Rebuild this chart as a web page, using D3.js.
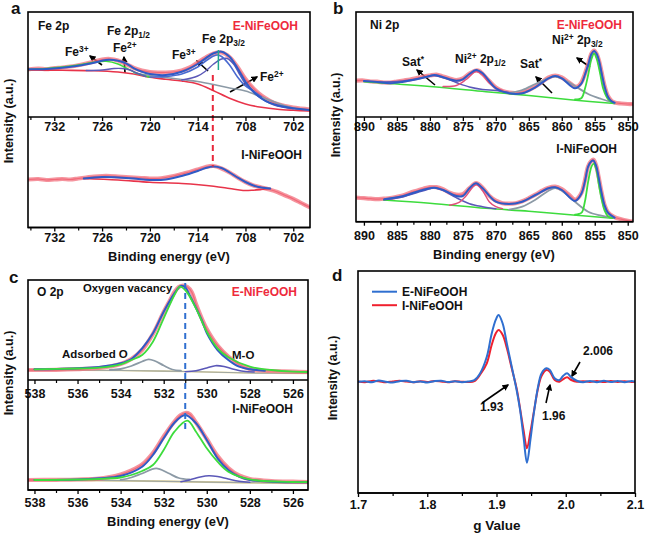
<!DOCTYPE html>
<html><head><meta charset="utf-8">
<script src="https://cdn.jsdelivr.net/npm/d3@7"></script>
<style>body{margin:0;background:#fff}svg{display:block}</style>
</head><body>
<svg id="c" width="645" height="539"></svg>
<script>
// ---------- Panel a : Fe 2p (binding energy eV, intensity a.u.) ----------
const aTicks = [732, 726, 720, 714, 708, 702];
const aMinor = [735, 729, 723, 717, 711, 705];
const aTopRaw = [[735.3,47.5],[734,48.5],[733,47.8],[732,48.8],[731,49.5],[730,50.5],[729,51.8],[728,53.5],[727,55.5],[726,57.5],[725,58],[724,56.5],[723,53],[722,49],[721,46.5],[720,45],[719,44.5],[718,44.5],[717,45],[716,46.5],[715,49.5],[714,54.5],[713,59.5],[712,63.5],[711,64.5],[710,60],[709,50],[708,38],[707,28.5],[706,21.5],[705,16.5],[704,13],[703,11],[702,9.5],[701,8.5],[699.9,7.5]];
const aTopFit = [[735.3,47.7],[733,48],[731,49.3],[729,51.3],[727,54.3],[725.5,57],[724,56.3],[723,53.7],[722,48.7],[721,45.3],[720,43],[718,42],[716,45.3],[714,53],[713,58.7],[712,63.7],[711,65.3],[710,60.3],[709,48.7],[708,35.3],[707,25.3],[706,18.7],[705,14.3],[704,11.7],[702,8.7],[700,7]];
const aTopBg = [[735.3,47],[731,46.7],[727,46.3],[724,45],[722,43],[720,39.7],[718,37.7],[716,36],[714,33],[712,26.3],[710,18.7],[708,13],[706,9.7],[704,7.7],[702,6.7],[700,6]];
const aTopFe3Half = [[735.3,47.5],[733,48.5],[731,50],[729,52],[727,54.7],[725.5,55.7],[724,53],[723,49],[722,45],[721,42],[720,39.7]];
const aTopFe2Half = [[728,46.5],[726,47],[724.5,48.5],[723.5,48.5],[722.5,47],[721.5,43.5],[720.5,40.5]];
const aTopFe3 = [[720,40],[718,40.5],[716,43],[714,50],[713,56],[712,61],[711.5,62],[711,60.5],[710,52],[709,40],[708,31],[707,26],[706,20]];
const aTopFe2 = [[716,37],[714,41],[713,46],[712,53],[711,58],[710.3,58.5],[709.5,53],[708.7,42],[708,33],[707,25],[706,18.5],[705,14],[704,11],[702,8.3]];
const aTopSat = [[722,44],[720,41.5],[718,39.5],[716,37.5],[714,35.5],[712,32.5],[710,29],[708,26],[706,20],[704,14],[702,9],[700,7]];
const aBotRaw = [[735.3,48],[734,48.5],[733,47.5],[732,48],[731,48.5],[730,48],[729,49],[728,50],[727,51],[726,51.5],[725,51.5],[724,51],[723,50.5],[722,50],[721,49.5],[720,49],[719,49],[718,50],[717,51.5],[716,53.5],[715,55.5],[714,58],[713,60.5],[712,61.5],[711,59],[710,55],[709,50],[708,45.5],[707,42],[706,40],[705,38],[704,35.5],[703,32],[702,28.5],[701,24.5],[699.9,20]];
const aBotFit = [[728.3,49],[726,50.5],[724,50],[722,49],[720,47.5],[718,48],[716,51.5],[714,56.5],[713,59.5],[712,61],[711,59.5],[710,55],[709,50],[708,45.5],[707,42],[706,40],[704.9,39]];
const aBotBg = [[728.3,49],[724,47.5],[720,45.3],[716,44],[712,41.3],[710,39],[708.3,37],[707,37.3],[706,38],[704.9,39]];

// ---------- Panel b : Ni 2p ----------
const bTicks = [890, 885, 880, 875, 870, 865, 860, 855, 850];
const bMinor = [887.5, 882.5, 877.5, 872.5, 867.5, 862.5, 857.5, 852.5];
const bTopRaw = [[891.2,36.3],[890,36.5],[889,35.5],[888,35.3],[887,34.5],[886,34.5],[885,35.5],[884,36.5],[883,37.5],[882,39],[881,40.5],[880,41.5],[879,42.3],[878,40.5],[877,38.5],[876,37],[875,38.5],[874,43.5],[873,46.5],[872.5,46],[872,43],[871,36],[870,29.5],[869,26],[868,24.5],[867,24],[866,25],[865,27],[864,30.5],[863,35],[862,39.5],[861,41.5],[860,39.5],[859,35],[858,30.5],[857.5,31],[857,35],[856.5,43],[856,53],[855.5,63.5],[855.1,66.5],[854.7,63],[854.3,55],[854,46],[853.5,31],[853,21],[852.5,16.5],[852,14.5],[851,13.5],[850,13],[849.2,13]];
const bTopFit = [[890,36],[888,35],[886,33.7],[884,35.3],[882,37.7],[880,41],[879.3,42],[878,39.7],[876,36.3],[875,37.7],[874,43],[873,47],[872,43.7],[870,28.7],[868,23.7],[866,23.7],[864,29.7],[862,38.7],[861,41],[860,38.7],[858,28.7],[857,33.7],[856.5,42],[856,52],[855.5,63],[855.1,66],[854.7,63],[854.3,55],[854,45.3],[853.5,30.3],[853,20.3],[852.5,16],[852,14.3]];
const bTopBg = [[890,35.3],[880,30.5],[871.5,25.3],[865,21.5],[858.3,17],[852,13.5]];
const bTopSat1 = [[888,35],[885,35.5],[883,37],[881,39.5],[879.5,41.5],[878,39.5],[876,34.5],[874,30],[872,27.5],[870,26.5],[868,24.5]];
const bTopNi1 = [[878,30.5],[876,31.5],[874.5,37.5],[873,45.5],[872,42],[871,34],[870,29],[869,26.5]];
const bTopSat2 = [[868,24],[866,27],[864,33],[862,39],[861,40.5],[860,38.5],[858,31],[856,23],[854,18],[852,14]];
const bTopNi3 = [[858,17.5],[857,19],[856.5,28],[856,42],[855.5,58],[855.1,63.5],[854.7,58],[854.2,44],[853.7,28],[853,18],[852.3,14]];
const bBotRaw = [[891.2,24],[890,23.5],[889,23],[888,22.5],[887,23],[886,23.5],[885,25],[884,26.5],[883,29],[882,31],[881,33],[880,34.5],[879,34.5],[878,32.5],[877,29],[876,27],[875,27.5],[874,33.5],[873,38.5],[872,34],[871,26],[870,21],[869,18.5],[868,18],[867,18.5],[866,20.5],[865,23.5],[864,27],[863,31],[862,34],[861,35],[860,32.5],[859,27.5],[858,22],[857.5,24],[857,29],[856.5,41],[856,55.5],[855.5,61],[855.2,62],[854.8,56.5],[854.4,44.5],[854,30.5],[853.5,16.5],[853,9.5],[852,4.5],[851,2.5],[850,1],[849.2,0]];
const bBotFit = [[886.9,22.4],[884,25.7],[882,30],[880,33.4],[879.3,34],[878,31.7],[876,25.7],[875,25.7],[874,33.4],[873,38.4],[872,33.4],[870,20],[868,17.7],[866,20],[864,26.7],[862,33.4],[861,34.4],[860,31.7],[858,20.7],[857,28.4],[856.5,40],[856,55],[855.5,60.5],[855.2,61],[854.8,56],[854.4,44],[854,30],[853.5,16],[853,9],[852,4]];
const bBotBg = [[887,21.7],[880,18.5],[871.5,13.4],[865,10.5],[858.3,6.7],[852.3,3.4]];
const bBotSat1 = [[887,22],[884,25],[882,29],[880,33],[879.3,34],[878,31.5],[876,24],[874,18],[872,15],[870,13]];
const bBotNi1 = [[877,16.5],[875.5,19.5],[874.5,26],[873,37],[872,31],[871,20],[870,15],[869,13]];
const bBotSat2 = [[868,12],[866,15],[864,22],[862,31],[861,33.5],[860,31],[858,20],[856,10],[854,6],[852,3.5]];
const bBotNi3 = [[858,7],[857,9],[856.5,20],[856,40],[855.5,55],[855.2,58],[854.8,53],[854.4,38],[854,24],[853.5,11],[853,5.5],[852.3,3.5]];

// ---------- Panel c : O 2p ----------
const cTicks = [538, 536, 534, 532, 530, 528, 526];
const cMinor = [537, 535, 533, 531, 529, 527];
const cTopRaw = [[538.3,10],[537,10.2],[536,10.8],[535,12],[534.5,13.5],[534,16],[533.5,21],[533,30],[532.5,46],[532,68],[531.7,80],[531.5,88],[531.3,93],[531.1,94.5],[530.9,93],[530.7,88],[530.5,76],[530.2,60],[530,51],[529.5,34.5],[529,23.5],[528.5,15.5],[528,11],[527.5,9.5],[527,9],[526,8.3],[525.3,8]];
const cTopFit = [[538,10.7],[537,11],[536,11.7],[535,13],[534,16.7],[533.5,21],[533,31.7],[532.5,46.7],[532,68.3],[531.5,86.7],[531.2,94],[531,92.7],[530.8,85],[530.5,72],[530.2,58],[530,47],[529.5,30],[529,20],[528.5,13.3],[528,10.7],[527.3,9.3]];
const cTopMain = [[538,10.7],[536,11.5],[535,12.3],[534,15.7],[533.5,20],[533,25],[532.5,38.3],[532,61.7],[531.5,85],[531.25,93.3],[531,90],[530.5,71.7],[530,48.3],[529.5,31.7],[529,22.7],[528,13.3],[527,10],[526,8.3],[525.3,8]];
const cTopAds = [[534.5,10],[534,11],[533.5,14],[533,18.5],[532.7,20.7],[532.4,19],[532,14.5],[531.6,10.5],[531.2,9.3]];
const cTopMO = [[531,8.3],[530.5,9.3],[530,12],[529.6,14.3],[529.2,13.5],[528.8,11],[528.3,8.7],[527.8,8]];
const cTopBg = [[538.3,10],[534,9.5],[531,8.5],[528,7],[525.3,6.5]];
const cBotRaw = [[538.3,10],[537,10.2],[536,10.5],[535,11.3],[534.5,13],[534,15.5],[533.5,19.5],[533,25.5],[532.5,37],[532,53.5],[531.5,68.5],[531.2,75],[531,77],[530.8,76],[530.5,67.5],[530,51],[529.5,34],[529,22],[528.5,14.5],[528,11],[527,9],[526,8.3],[525.3,8]];
const cBotFit = [[538,10],[536,10.5],[535,11.7],[534,14],[533,23.3],[532.5,35],[532,51.7],[531.5,67.3],[531,75],[530.5,66.7],[530,50],[529.5,31.7],[529,20],[528.5,13.3],[528,10],[527,8.3],[525.3,7.7]];
const cBotMain = [[538,10],[535,11],[534,12.5],[533.5,15],[533,19],[532.5,25],[532,40],[531.5,58.3],[530.9,69.3],[530.5,58.3],[530,41.7],[529.5,28.3],[529,18.3],[528,10.7],[526,8],[525.3,8]];
const cBotAds = [[534,10],[533.5,12.5],[533,16.5],[532.35,21.7],[531.8,17],[531.3,12],[530.8,10.5]];
const cBotMO = [[531.2,8.3],[530.8,10],[530.3,13],[529.9,14.3],[529.5,13.5],[529,11],[528.5,8.7],[528,7.7]];
const cBotBg = [[538.3,10],[534,9.3],[531,8.3],[528,7.3],[525.3,6.7]];

// ---------- Panel d : EPR ----------
const dTicks = [1.7, 1.8, 1.9, 2.0, 2.1];
const dMinor = [1.75, 1.85, 1.95, 2.05];
const dSeries = ["E-NiFeOOH", "I-NiFeOOH"];
const dG = [1.700,1.710,1.720,1.730,1.740,1.750,1.760,1.770,1.780,1.790,1.800,1.810,1.820,1.830,1.840,1.850,1.860,1.868,1.876,1.886,1.893,1.899,1.903,1.909,1.915,1.922,1.929,1.934,1.939,1.944,1.949,1.954,1.960,1.965,1.972,1.977,1.984,1.991,1.996,2.002,2.008,2.016,2.025,2.035,2.045,2.055,2.065,2.075,2.085,2.095,2.100];
const dE = [0,0.5,-0.5,1.2,0,-0.8,0.5,1,-0.5,0.3,-0.7,0.5,1,-0.3,0.4,-0.5,0.3,1.5,8,25,48,62,66.7,58,38,15,-8,-28,-55,-81,-58,-31,-5,8.3,13.4,11.7,3.3,1.7,5.7,8.4,4.3,1,-0.5,0.8,-0.5,1,-0.3,0.8,-0.5,0.8,0];
const dI = [0.3,-0.5,0.8,0.5,-0.5,0.3,1,0.2,-0.5,0.5,-0.3,0.8,0.3,-0.5,0.5,0,-0.3,0.5,6.7,18.4,36.7,48.4,51.7,46.7,33.4,13.4,-6.6,-26.6,-48.3,-66.6,-50,-29.9,-6.6,5.7,11.7,10,1.7,0,2.4,4.4,1.7,0,0.5,-0.3,0.6,-0.4,0.7,-0.2,0.5,-0.3,0];

// ---------- drawing ----------
const FONT = '"Liberation Sans", Arial, Helvetica, sans-serif';
const C = {raw:'#f2707e', fit:'#2f5bc6', bg:'#e8344a', green:'#3ddc3d', gray:'#8c9aa6', purple:'#5b58b8', slate:'#4a6ad0', red:'#ee2a3c', pink:'#e0507a', teal:'#1fa88f'};
const svg = d3.select('#c');
const defs = svg.append('defs');
defs.append('marker').attr('id','arr').attr('viewBox','0 0 10 10').attr('refX',8).attr('refY',5)
  .attr('markerWidth',4.2).attr('markerHeight',4.2).attr('orient','auto')
  .append('path').attr('d','M0,0L10,5L0,10z').attr('fill','#000');

let clipN = 0;
function clipGroup(x0,y0,x1,y1){
  const id = 'cl'+(clipN++);
  defs.append('clipPath').attr('id',id).append('rect').attr('x',x0).attr('y',y0).attr('width',x1-x0).attr('height',y1-y0);
  return svg.append('g').attr('clip-path',`url(#${id})`);
}
function curve(g, data, x, y, color, w, op){
  g.append('path').datum(data)
   .attr('d', d3.line().x(d=>x(d[0])).y(d=>y(d[1])).curve(d3.curveCatmullRom.alpha(0.5)))
   .attr('fill','none').attr('stroke',color).attr('stroke-width',w)
   .attr('stroke-opacity',op==null?1:op).attr('stroke-linejoin','round').attr('stroke-linecap','round');
}
function rawCurve(g, data, x, y){
  curve(g, data, x, y, C.raw, 4.2, 0.75);
  curve(g, data, x, y, '#f04a5e', 1.2, 0.6);
}
function txt(g, x, y, s, size, opts={}){
  return g.append('text').attr('x',x).attr('y',y).text(s)
    .attr('font-family',FONT).attr('font-weight','bold').attr('font-size',size)
    .attr('fill',opts.color||'#111').attr('text-anchor',opts.anchor||'start');
}
function rich(g, x, y, parts, size, opts={}){
  const t = g.append('text').attr('x',x).attr('y',y)
    .attr('font-family',FONT).attr('font-weight','bold').attr('font-size',size)
    .attr('fill',opts.color||'#111').attr('text-anchor',opts.anchor||'start');
  parts.forEach(p=>{
    const ts = t.append('tspan').text(p[0]);
    if(p[1]==='sub') ts.attr('font-size',size*0.7).attr('baseline-shift',-2.5);
    if(p[1]==='sup') ts.attr('font-size',size*0.7).attr('baseline-shift',4.5);
  });
}
function arrow(g, x1,y1,x2,y2){
  g.append('line').attr('x1',x1).attr('y1',y1).attr('x2',x2).attr('y2',y2)
   .attr('stroke','#000').attr('stroke-width',1.6).attr('marker-end','url(#arr)');
}
function xAxis(x, yPos, major, minor, fmt, base){
  const g = svg.append('g').attr('transform',`translate(0,${yPos})`);
  g.call(d3.axisBottom(x).tickValues(major).tickSize(4).tickPadding(0).tickFormat(fmt));
  g.select('.domain').remove();
  g.selectAll('.tick line').attr('stroke','#000').attr('stroke-width',1.3);
  g.selectAll('.tick text').attr('font-family',FONT).attr('font-weight','bold').attr('font-size',12.5)
    .attr('fill','#111').attr('y', base - yPos).attr('dy',0);
  const m = svg.append('g').attr('transform',`translate(0,${yPos})`);
  m.call(d3.axisBottom(x).tickValues(minor).tickSize(3).tickFormat(''));
  m.select('.domain').remove();
  m.selectAll('.tick line').attr('stroke','#000').attr('stroke-width',1.2);
  svg.append('line').attr('x1',x.range()[0]).attr('x2',x.range()[1]).attr('y1',yPos).attr('y2',yPos)
    .attr('stroke','#000').attr('stroke-width',1.6);
}
function frame(x0,y0,x1,y1){
  svg.append('rect').attr('x',x0).attr('y',y0).attr('width',x1-x0).attr('height',y1-y0)
    .attr('fill','none').attr('stroke','#000').attr('stroke-width',1.6);
}
function yTitle(x, y){
  svg.append('text').attr('transform',`translate(${x},${y}) rotate(-90)`).text('Intensity (a.u.)')
    .attr('font-family',FONT).attr('font-weight','bold').attr('font-size',12.5).attr('text-anchor','middle').attr('fill','#111');
}
const ann = svg.append('g');

// ===== Panel a =====
const xA = d3.scaleLinear().domain([735.3, 699.9]).range([28, 310]);
const yAt = d3.scaleLinear().domain([0, 105]).range([117, 12]);
const yAb = d3.scaleLinear().domain([0, 110.5]).range([227.5, 117]);
{
  const g1 = clipGroup(28,12,310,117);
  rawCurve(g1, aTopRaw, xA, yAt);
  curve(g1, aTopBg, xA, yAt, C.bg, 1.6);
  curve(g1, aTopSat, xA, yAt, C.gray, 1.6);
  curve(g1, aTopFe3Half, xA, yAt, C.green, 1.6);
  curve(g1, aTopFe2Half, xA, yAt, C.purple, 1.4);
  curve(g1, aTopFe2, xA, yAt, C.purple, 1.4);
  curve(g1, aTopFe3, xA, yAt, C.slate, 1.6);
  curve(g1, aTopFit, xA, yAt, C.fit, 2);
  const g2 = clipGroup(28,117,310,227.5);
  rawCurve(g2, aBotRaw, xA, yAb);
  curve(g2, aBotBg, xA, yAb, C.bg, 1.6);
  curve(g2, aBotFit, xA, yAb, C.fit, 2);
  svg.append('line').attr('x1',xA(712.1)).attr('x2',xA(712.1)).attr('y1',yAt(42)).attr('y2',yAb(61))
    .attr('stroke','#e8283c').attr('stroke-width',2).attr('stroke-dasharray','6,4');
  svg.append('line').attr('x1',xA(711.4)).attr('x2',xA(711.4)).attr('y1',yAt(67)).attr('y2',yAt(47))
    .attr('stroke',C.teal).attr('stroke-width',1.5);
  xAxis(xA, 117, aTicks, aMinor, d3.format('d'), 131);
  xAxis(xA, 227.5, aTicks, aMinor, d3.format('d'), 242);
  frame(28,12,310,227.5);
  txt(ann, 169, 261, 'Binding energy (eV)', 12.9, {anchor:'middle'});
  yTitle(13, 121);
  txt(ann, 11, 14, 'a', 17);
  txt(ann, 38, 30, 'Fe 2p', 12);
  txt(ann, 298, 30, 'E-NiFeOOH', 12, {anchor:'end', color:C.red});
  txt(ann, 302, 159, 'I-NiFeOOH', 12, {anchor:'end'});
  rich(ann, 107, 35, [['Fe 2p'],['1/2','sub']], 12);
  rich(ann, 113, 52, [['Fe'],['2+','sup']], 12);
  rich(ann, 65, 56, [['Fe'],['3+','sup']], 12);
  rich(ann, 202, 43, [['Fe 2p'],['3/2','sub']], 12);
  rich(ann, 172, 59, [['Fe'],['3+','sup']], 12);
  rich(ann, 260, 81, [['Fe'],['2+','sup']], 12);
  arrow(ann, 102, 65, 90, 56);
  arrow(ann, 125, 73, 124, 57);
  arrow(ann, 208, 71, 197, 61);
  arrow(ann, 230, 92, 257, 77);
}

// ===== Panel b =====
const xB = d3.scaleLinear().domain([891.2, 849.2]).range([356, 633]);
const yBt = d3.scaleLinear().domain([0, 105]).range([117, 12]);
const yBb = d3.scaleLinear().domain([0, 104.7]).range([221.7, 117]);
{
  const g1 = clipGroup(356,12,633,117);
  rawCurve(g1, bTopRaw, xB, yBt);
  curve(g1, bTopBg, xB, yBt, C.green, 1.6);
  curve(g1, bTopSat1, xB, yBt, C.purple, 1.5);
  curve(g1, bTopNi1, xB, yBt, C.pink, 1.5);
  curve(g1, bTopSat2, xB, yBt, C.gray, 1.8);
  curve(g1, bTopNi3, xB, yBt, C.green, 1.8);
  curve(g1, bTopFit, xB, yBt, C.fit, 2);
  const g2 = clipGroup(356,117,633,221.7);
  rawCurve(g2, bBotRaw, xB, yBb);
  curve(g2, bBotBg, xB, yBb, C.green, 1.6);
  curve(g2, bBotSat1, xB, yBb, C.purple, 1.5);
  curve(g2, bBotNi1, xB, yBb, C.pink, 1.5);
  curve(g2, bBotSat2, xB, yBb, C.gray, 1.8);
  curve(g2, bBotNi3, xB, yBb, C.green, 1.8);
  curve(g2, bBotFit, xB, yBb, C.fit, 2);
  xAxis(xB, 117, bTicks, bMinor, d3.format('d'), 131);
  xAxis(xB, 221.7, bTicks, bMinor, d3.format('d'), 240);
  frame(356,12,633,221.7);
  txt(ann, 494, 259, 'Binding energy (eV)', 12.9, {anchor:'middle'});
  yTitle(340, 115);
  txt(ann, 333, 14, 'b', 17);
  txt(ann, 370, 29, 'Ni 2p', 12);
  txt(ann, 622, 29, 'E-NiFeOOH', 12, {anchor:'end', color:C.red});
  txt(ann, 617, 153, 'I-NiFeOOH', 12, {anchor:'end'});
  rich(ann, 402, 66, [['Sat'],['*','sup']], 12);
  rich(ann, 455, 63, [['Ni'],['2+','sup'],[' 2p'],['1/2','sub']], 12);
  rich(ann, 520, 68, [['Sat'],['*','sup']], 12);
  rich(ann, 552, 44, [['Ni'],['2+','sup'],[' 2p'],['3/2','sub']], 12);
  arrow(ann, 435, 85, 417, 70);
  arrow(ann, 552, 93, 536, 77);
  arrow(ann, 590, 67, 577, 58);
}

// ===== Panel c =====
const xC = d3.scaleLinear().domain([538.3, 525.3]).range([28, 308]);
const yCt = d3.scaleLinear().domain([0, 100]).range([380, 280]);
const yCb = d3.scaleLinear().domain([0, 110]).range([490, 380]);
{
  const g1 = clipGroup(28,280,308,380);
  curve(g1, cTopBg, xC, yCt, '#e8d898', 1.6);
  curve(g1, cTopBg, xC, yCt, C.gray, 1.2, 0.8);
  rawCurve(g1, cTopRaw, xC, yCt);
  curve(g1, cTopAds, xC, yCt, C.gray, 1.8);
  curve(g1, cTopMO, xC, yCt, C.purple, 1.6);
  curve(g1, cTopFit, xC, yCt, C.fit, 2);
  curve(g1, cTopMain, xC, yCt, C.green, 1.8);
  const g2 = clipGroup(28,380,308,490);
  curve(g2, cBotBg, xC, yCb, '#e8d898', 2);
  curve(g2, cBotBg, xC, yCb, C.gray, 1.2, 0.8);
  rawCurve(g2, cBotRaw, xC, yCb);
  curve(g2, cBotAds, xC, yCb, C.gray, 1.8);
  curve(g2, cBotMO, xC, yCb, C.purple, 1.6);
  curve(g2, cBotFit, xC, yCb, C.fit, 2);
  curve(g2, cBotMain, xC, yCb, C.green, 1.8);
  svg.append('line').attr('x1',xC(531)).attr('x2',xC(531)).attr('y1',yCt(97)).attr('y2',yCb(57))
    .attr('stroke','#2f6fd0').attr('stroke-width',2).attr('stroke-dasharray','6,4');
  xAxis(xC, 380, cTicks, cMinor, d3.format('d'), 398);
  xAxis(xC, 490, cTicks, cMinor, d3.format('d'), 507);
  frame(28,280,308,490);
  txt(ann, 168, 526, 'Binding energy (eV)', 12.9, {anchor:'middle'});
  yTitle(13, 373);
  txt(ann, 9, 283, 'c', 17);
  txt(ann, 37, 296, 'O 2p', 12);
  txt(ann, 83, 292, 'Oxygen vacancy', 11.3);
  txt(ann, 297, 296, 'E-NiFeOOH', 12, {anchor:'end', color:C.red});
  txt(ann, 62, 358, 'Adsorbed O', 11.5);
  txt(ann, 232, 359, 'M-O', 11.5);
  txt(ann, 293, 413, 'I-NiFeOOH', 12, {anchor:'end'});
}

// ===== Panel d =====
const xD = d3.scaleLinear().domain([1.7, 2.1]).range([358, 635]);
const yD = d3.scaleLinear().domain([-111.3, 110.7]).range([493, 271]);
{
  const colors = ['#2f6fd0', '#f0202e'];
  const vals = [dE, dI];
  const g = clipGroup(358,271,635,493);
  [1,0].forEach(k=>{
    const pts = dG.map((gv,i)=>[gv, vals[k][i]]);
    curve(g, pts, xD, yD, colors[k], 2);
  });
  xAxis(xD, 493, dTicks, dMinor, d3.format('.1f'), 509);
  frame(358,271,635,493);
  txt(ann, 497, 530, 'g Value', 13.5, {anchor:'middle'});
  yTitle(337, 378);
  txt(ann, 332, 281, 'd', 17);
  dSeries.forEach((s,k)=>{
    const yy = 291.7 + k*13.5;
    svg.append('line').attr('x1',372).attr('x2',397).attr('y1',yy).attr('y2',yy).attr('stroke',colors[k]).attr('stroke-width',2);
    txt(ann, 402, yy+4.3, s, 12);
  });
  txt(ann, 583, 355, '2.006', 12);
  txt(ann, 480, 411, '1.93', 12);
  txt(ann, 542, 420, '1.96', 12);
  arrow(ann, 580, 362, 572, 376);
  arrow(ann, 482, 403, 508, 385);
  arrow(ann, 546, 403, 550, 385);
}
</script>
</body></html>
